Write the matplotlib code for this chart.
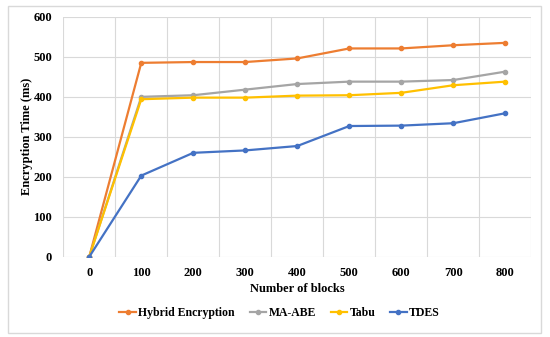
import matplotlib.pyplot as plt
from matplotlib.patches import Rectangle

# ---------- data ------------------------------------------------------------
blocks = ['0', '100', '200', '300', '400', '500', '600', '700', '800']
hybrid = [0, 485, 487, 487, 496, 521, 521, 529, 535]
ma_abe = [0, 400, 404, 418, 432, 438, 438, 442, 463]
tabu = [0, 394, 398, 398, 403, 404, 410, 429, 438]
tdes = [0, 203, 260, 266, 277, 327, 328, 334, 359]

series = [
    ('Hybrid Encryption', hybrid, '#ED7D31'),
    ('MA-ABE', ma_abe, '#A5A5A5'),
    ('Tabu', tabu, '#FFC000'),
    ('TDES', tdes, '#4472C4'),
]

plt.rcParams['font.family'] = ['Liberation Serif', 'DejaVu Serif']
plt.rcParams['font.weight'] = 'bold'

fig = plt.figure(figsize=(5.5, 3.37), dpi=100)
ax = fig.add_axes([0.115, 0.238, 0.851, 0.712])

# outer chart border
fig.patches.append(Rectangle((8 / 550, 4 / 337), 533 / 550, 327 / 337,
                             transform=fig.transFigure, fill=False,
                             edgecolor='#D9D9D9', linewidth=1))

x = list(range(len(blocks)))
for name, vals, col in series:
    ax.plot(x, vals, color=col, linewidth=1.6, marker='o', markersize=3,
            label=name, zorder=3)

ax.set_xlim(-0.5, len(blocks) - 0.5)
ax.set_ylim(0, 600)
ax.set_yticks(range(0, 601, 100))
ax.set_xticks(x)
ax.set_xticklabels(blocks)
ax.set_xticks([i - 0.5 for i in range(len(blocks) + 1)], minor=True)
ax.tick_params(which='both', length=0)
ax.tick_params(axis='y', pad=8, labelsize=9)
ax.tick_params(axis='x', pad=7, labelsize=9)
for lbl in ax.get_xticklabels() + ax.get_yticklabels():
    lbl.set_fontweight('bold')

ax.grid(axis='y', which='major', color='#D9D9D9', linewidth=0.8)
ax.grid(axis='x', which='minor', color='#D9D9D9', linewidth=0.8)
ax.set_axisbelow(True)
for s in ax.spines.values():
    s.set_visible(False)

ax.set_xlabel('Number of blocks', fontsize=9, fontweight='bold', labelpad=3)
ax.set_ylabel('Encryption Time (ms)', fontsize=9, fontweight='bold', labelpad=0)

ax.legend(loc='center', bbox_to_anchor=(0.462, -0.235), ncol=4, frameon=False,
          prop={'size': 8.5, 'weight': 'bold'}, handlelength=1.4,
          columnspacing=1.25, handletextpad=0.2)

plt.savefig('out.png', dpi=100)
